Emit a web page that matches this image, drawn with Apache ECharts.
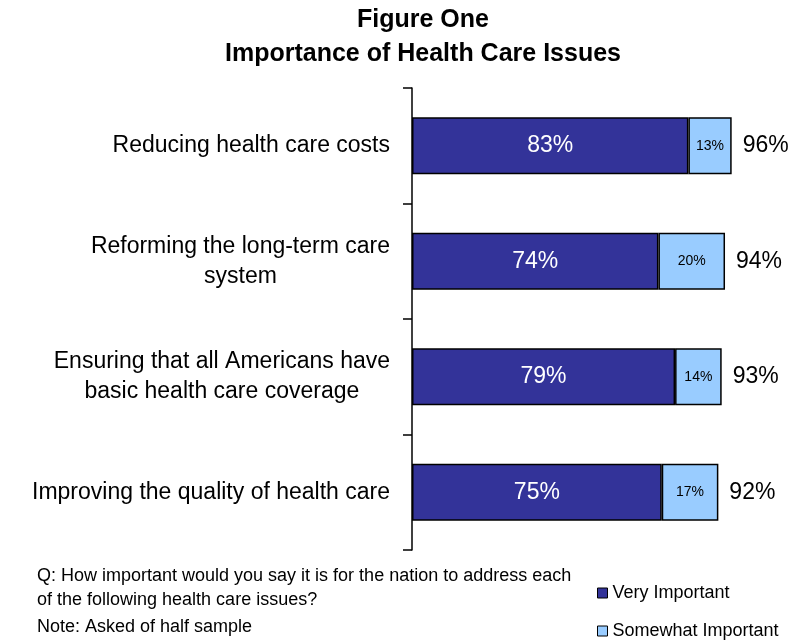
<!DOCTYPE html>
<html>
<head>
<meta charset="utf-8">
<script src="https://cdn.jsdelivr.net/npm/echarts@6/dist/echarts.min.js"></script>
<style>
html,body{margin:0;padding:0;background:#fff;}
#chart{width:794px;height:643px;}
</style>
</head>
<body>
<div id="chart"></div>
<script>
const titleLines = ['Figure One', 'Importance of Health Care Issues'];
const categories = [
  'Reducing health care costs',
  'Reforming the long-term care\nsystem',
  'Ensuring that all Americans have\nbasic health care coverage',
  'Improving the quality of health care'
];
const veryImportant = [83, 74, 79, 75];
const somewhatImportant = [13, 20, 14, 17];
const totals = [96, 94, 93, 92];
const seriesNames = ['Very Important', 'Somewhat Important'];
const notes = [
  'Q: How important would you say it is for the nation to address each',
  'of the following health care issues?',
  'Note: Asked of half sample'
];

const FONT = '"Liberation Sans", Arial, sans-serif';
const chart = echarts.init(document.getElementById('chart'), null, {renderer: 'canvas'});

const option = {
  animation: false,
  backgroundColor: '#fff',
  textStyle: {fontFamily: FONT},
  title: {
    text: titleLines.join('\n'),
    left: 423,
    top: 3,
    padding: 0,
    textAlign: 'center',
    textStyle: {fontFamily: FONT, fontSize: 25, fontWeight: 'bold', color: '#000', lineHeight: 34}
  },
  legend: {
    data: seriesNames,
    orient: 'vertical',
    left: 597,
    top: 584,
    padding: 0,
    itemWidth: 10,
    itemHeight: 10,
    itemGap: 20,
    icon: 'rect',
    textStyle: {fontFamily: FONT, fontSize: 18, color: '#000'},
    itemStyle: {borderColor: '#000', borderWidth: 1}
  },
  grid: {left: 412, top: 88, width: 333, height: 462, containLabel: false},
  xAxis: {type: 'value', min: 0, max: 100, show: false},
  yAxis: {
    type: 'category',
    data: categories,
    inverse: true,
    axisLine: {show: true, lineStyle: {color: '#000', width: 1.5}},
    axisTick: {show: true, length: 9, lineStyle: {color: '#000', width: 1.5}},
    axisLabel: {
      margin: 22,
      color: '#000',
      fontFamily: FONT,
      fontSize: 23,
      formatter: function (v) { return v.split('\n').map(s => '{c|' + s + '}').join('\n'); },
      rich: {c: {align: 'center', fontSize: 23, lineHeight: 30, fontFamily: FONT, color: '#000'}}
    },
    splitLine: {show: false}
  },
  series: [
    {
      name: seriesNames[0], type: 'bar', stack: 'total', barWidth: 57,
      data: veryImportant,
      itemStyle: {color: '#333399', borderColor: '#000', borderWidth: 1.5},
      label: {show: true, position: 'inside', color: '#fff', fontSize: 23, fontFamily: FONT, formatter: '{c}%'}
    },
    {
      name: seriesNames[1], type: 'bar', stack: 'total', barWidth: 57,
      data: somewhatImportant,
      itemStyle: {color: '#99CCFF', borderColor: '#000', borderWidth: 1.5},
      label: {show: true, position: 'inside', color: '#000', fontSize: 14, fontFamily: FONT, formatter: '{c}%'}
    },
    {
      name: 'Total', type: 'bar', stack: 'total', barWidth: 57,
      data: totals.map(() => 0),
      itemStyle: {color: 'rgba(0,0,0,0)', borderWidth: 0},
      label: {show: true, position: 'right', distance: 11, color: '#000', fontSize: 23, fontFamily: FONT,
        formatter: p => totals[p.dataIndex] + '%'}
    }
  ],
  graphic: notes.map((t, i) => ({
    type: 'text', left: 37, top: [567, 591, 618][i],
    style: {text: t, fontFamily: FONT, fontSize: 18, fill: '#000'}
  }))
};
chart.setOption(option);
</script>
</body>
</html>
